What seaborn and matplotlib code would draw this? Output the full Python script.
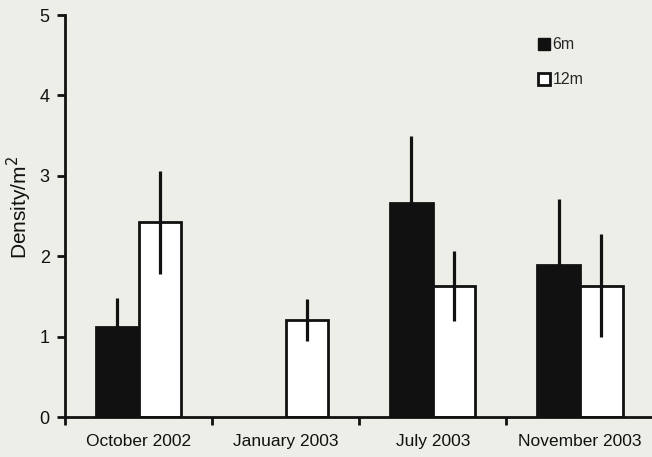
import matplotlib
matplotlib.use("Agg")
import matplotlib.pyplot as plt
from matplotlib.lines import Line2D
import numpy as np
import pandas as pd
import seaborn as sns

# Sampling dates and depths
months = ["October 2002", "January 2003", "July 2003", "November 2003"]
depths = ["6m", "12m"]

# Mean density (per m^2) and error for each depth
density_6m = [1.12, 0.0, 2.66, 1.89]
density_12m = [2.42, 1.21, 1.63, 1.63]
err_6m = [0.36, 0.0, 0.83, 0.82]
err_12m = [0.64, 0.26, 0.43, 0.64]

df = pd.DataFrame({
    "month": months * 2,
    "depth": ["6m"] * len(months) + ["12m"] * len(months),
    "density": density_6m + density_12m,
    "err": err_6m + err_12m,
})

sns.set_theme(style="ticks")
plt.rcParams["font.family"] = ["Liberation Sans", "DejaVu Sans"]

bg = "#eeeee8"
ink = "#111111"
fig = plt.figure(figsize=(6.52, 4.57), dpi=100, facecolor=bg)
ax = fig.add_axes([65 / 652, 40 / 457, 1 - 65 / 652, 402 / 457])
ax.set_facecolor(bg)

sns.barplot(data=df, x="month", y="density", hue="depth", order=months,
            hue_order=depths, palette={"6m": ink, "12m": "white"},
            width=0.58, gap=0, errorbar=None, edgecolor=ink,
            linewidth=2, legend=False, ax=ax)

# Error bars centred on each bar
for patch, (_, row) in zip(ax.patches, df.iterrows()):
    if row["density"] <= 0:
        patch.set_visible(False)
        continue
    xc = patch.get_x() + patch.get_width() / 2
    ax.plot([xc, xc], [row["density"] - row["err"], row["density"] + row["err"]],
            color=ink, lw=2.3, zorder=5, solid_capstyle="butt")

ax.set_xlim(-0.5, 3.49)
ax.set_ylim(0, 5)
ax.set_yticks(range(0, 6))
ax.set_xticks(np.arange(-0.5, 3.5, 1.0), minor=False)
ax.set_xticklabels([])
ax.set_xticks(range(len(months)), minor=True)
ax.set_xticklabels(months, minor=True)
ax.tick_params(axis="x", which="minor", length=0, pad=12, labelsize=12.5,
               colors=ink)
ax.tick_params(axis="x", which="major", length=6, width=2, color=ink,
               direction="out")
ax.tick_params(axis="y", length=6, width=2, color=ink, labelsize=13,
               labelcolor=ink, pad=5)
ax.set_xlabel("")
ax.set_ylabel("Density/m$^2$", fontsize=15, color=ink)
ax.yaxis.set_label_coords(-0.052, 0.52)

for side in ["top", "right"]:
    ax.spines[side].set_visible(False)
for side in ["left", "bottom"]:
    ax.spines[side].set_linewidth(2)
    ax.spines[side].set_color(ink)

handles = [
    Line2D([], [], marker="s", linestyle="none", markersize=8.5,
           markerfacecolor=ink, markeredgecolor=ink),
    Line2D([], [], marker="s", linestyle="none", markersize=8.5,
           markerfacecolor="white", markeredgecolor=ink,
           markeredgewidth=2),
]
ax.legend(handles, depths, loc="upper left", bbox_to_anchor=(0.78, 0.98),
          frameon=False, handlelength=0.8, handletextpad=0.15,
          labelspacing=1.25, fontsize=11.5)

fig.savefig("out.png", dpi=100, facecolor=bg)
